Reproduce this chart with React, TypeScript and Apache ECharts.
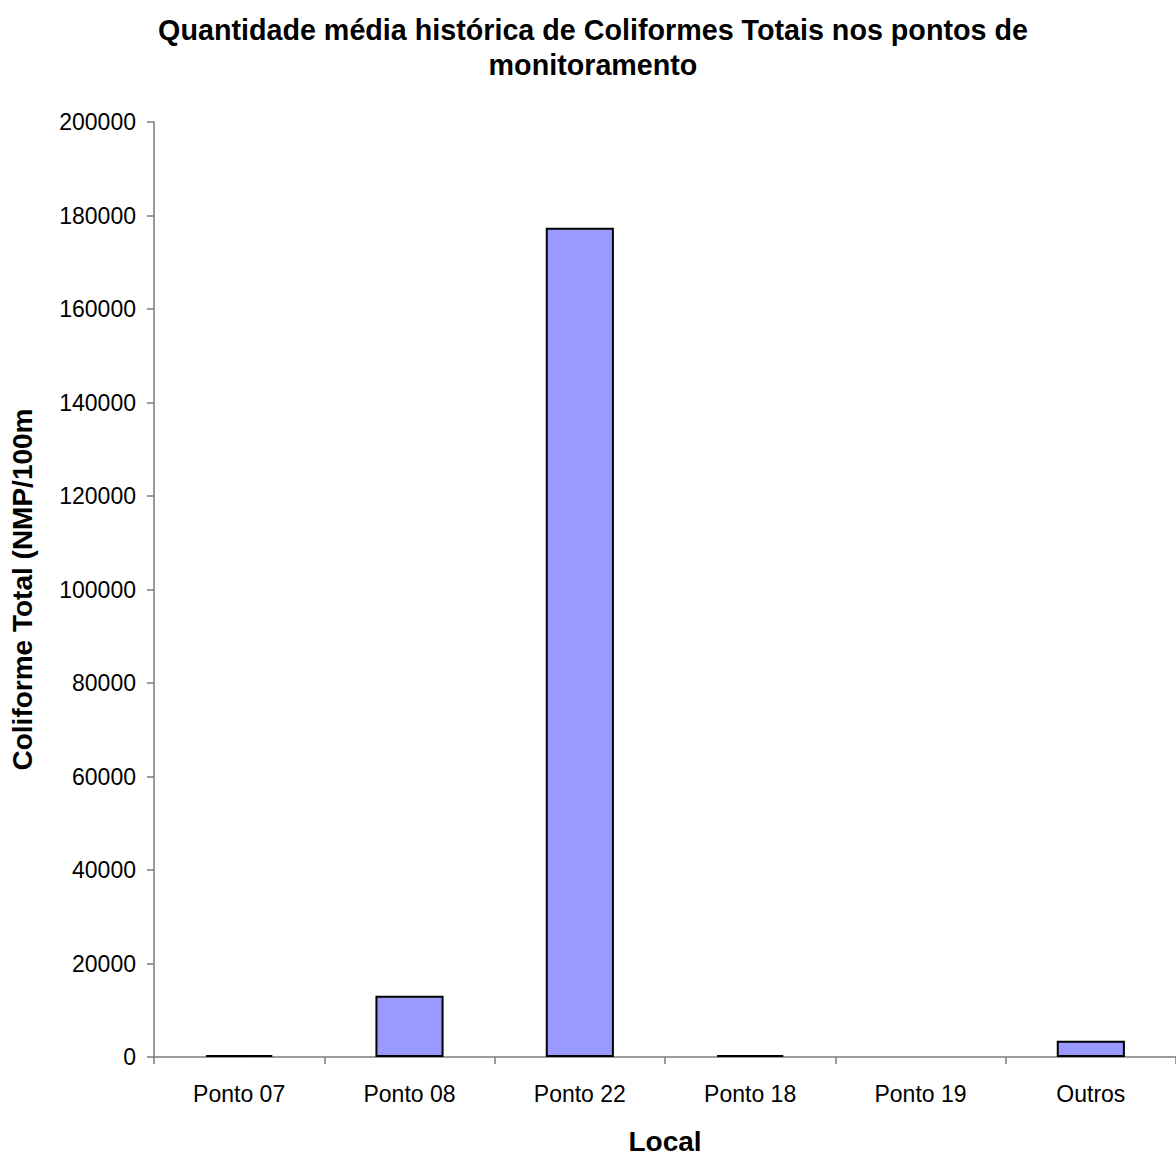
import React, { useEffect, useRef } from "react";
import * as echarts from "echarts";

// Sampling points and their historical mean total coliform counts
const categories = ["Ponto 07", "Ponto 08", "Ponto 22", "Ponto 18", "Ponto 19", "Outros"];
const coliformMeans = [400, 13100, 177400, 400, 0, 3500];
const yTicks = { min: 0, max: 200000, interval: 20000 };

const titleText = "Quantidade média histórica de Coliformes Totais nos pontos de\nmonitoramento";
const yAxisName = "Coliforme Total (NMP/100m";
const xAxisName = "Local";

const FONT = "Arial, 'Liberation Sans', Helvetica, sans-serif";

export default function App() {
  const ref = useRef<HTMLDivElement>(null);

  useEffect(() => {
    if (!ref.current) return;
    const chart = echarts.init(ref.current, undefined, { renderer: "svg" });
    // a zero mean leaves no visible bar outline
    const barData = coliformMeans.map((v) =>
      v === 0 ? { value: v, itemStyle: { borderWidth: 0 } } : v
    );
    chart.setOption({
      animation: false,
      backgroundColor: "#ffffff",
      textStyle: { fontFamily: FONT },
      title: {
        text: titleText,
        left: 588,
        top: 7,
        textAlign: "center",
        textStyle: {
          fontFamily: FONT,
          fontSize: 28.7,
          fontWeight: "bold",
          color: "#000",
          lineHeight: 35,
        },
      },
      grid: { left: 154, right: -9, top: 122, bottom: 96, containLabel: false },
      xAxis: {
        type: "category",
        data: categories,
        name: xAxisName,
        nameLocation: "middle",
        nameGap: 70,
        nameTextStyle: { fontFamily: FONT, fontSize: 28, fontWeight: "bold", color: "#000" },
        axisLine: { lineStyle: { color: "#7a7a7a", width: 1.5 } },
        axisTick: { show: true, length: 7, alignWithLabel: false, lineStyle: { color: "#7a7a7a", width: 1.5 } },
        axisLabel: { fontFamily: FONT, fontSize: 23, color: "#000", margin: 25 },
        splitLine: { show: false },
      },
      yAxis: {
        type: "value",
        min: yTicks.min,
        max: yTicks.max,
        interval: yTicks.interval,
        name: yAxisName,
        nameLocation: "middle",
        nameRotate: 90,
        nameGap: 118,
        nameTextStyle: { fontFamily: FONT, fontSize: 28, fontWeight: "bold", color: "#000" },
        axisLine: { show: true, lineStyle: { color: "#7a7a7a", width: 1.5 } },
        axisTick: { show: true, length: 7, lineStyle: { color: "#7a7a7a", width: 1.5 } },
        axisLabel: {
          fontFamily: FONT,
          fontSize: 23,
          color: "#000",
          margin: 18,
          formatter: (v: number) => String(v),
        },
        splitLine: { show: false },
      },
      series: [
        {
          type: "bar",
          data: barData,
          barCategoryGap: "60%",
          itemStyle: { color: "#9999ff", borderColor: "#000", borderWidth: 2 },
        },
      ],
    });
    return () => chart.dispose();
  }, []);

  return (
    <div
      ref={ref}
      style={{ position: "absolute", left: 0, top: 0, width: 1176, height: 1160 }}
    />
  );
}
